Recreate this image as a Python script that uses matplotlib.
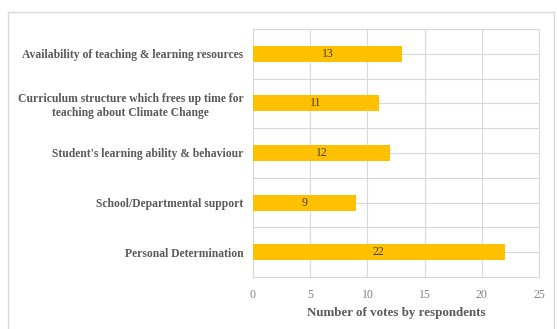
import numpy as np
import matplotlib.pyplot as plt
from matplotlib.patches import Rectangle

factors = [
    "Availability of teaching & learning resources",
    "Curriculum structure which frees up time for\nteaching about Climate Change",
    "Student's learning ability & behaviour",
    "School/Departmental support",
    "Personal Determination",
]
votes = [13, 11, 12, 9, 22]
x_ticks = [0, 5, 10, 15, 20, 25]

plt.rcParams['font.family'] = ['Liberation Serif', 'DejaVu Serif']
grey = '#595959'
grid_c = '#d9d9d9'

fig = plt.figure(figsize=(5.57, 3.29), dpi=100)
ax = fig.add_axes([253 / 557, 1 - 277 / 329, 286 / 557, 248 / 329])

# chart area border
fig.patches.append(Rectangle((8 / 557, -0.01), 546 / 557, 1 - 12 / 329 + 0.01,
                             transform=fig.transFigure, fill=False,
                             edgecolor=grid_c, linewidth=1.0))

y = np.arange(len(factors))
bars = ax.barh(y, votes, height=0.32, color='#FFC000', zorder=3)
for yi, v in zip(y, votes):
    ax.text(v / 2, yi, str(v), ha='center', va='center', fontsize=8.5,
            color='#404040', zorder=4)

ax.set_xlim(0, 25)
ax.set_ylim(len(factors) - 0.5, -0.5)
ax.set_xticks(x_ticks)
ax.set_yticks(y)
ax.set_yticklabels(factors, fontsize=8.4, fontweight='bold', color=grey,
                   multialignment='center')
ax.set_yticks(np.arange(-0.5, len(factors), 1.0), minor=True)
ax.tick_params(axis='x', labelsize=8.5, colors='#808080', length=0, pad=9)
ax.tick_params(axis='y', which='both', length=0, pad=7)
ax.grid(True, which='both', color=grid_c, linewidth=0.8, zorder=0)
for s in ax.spines.values():
    s.set_color(grid_c)
    s.set_linewidth(0.8)

ax.set_xlabel('Number of votes by respondents', fontsize=9.4,
              fontweight='bold', color=grey, labelpad=4)

fig.savefig('out.png', dpi=100)
